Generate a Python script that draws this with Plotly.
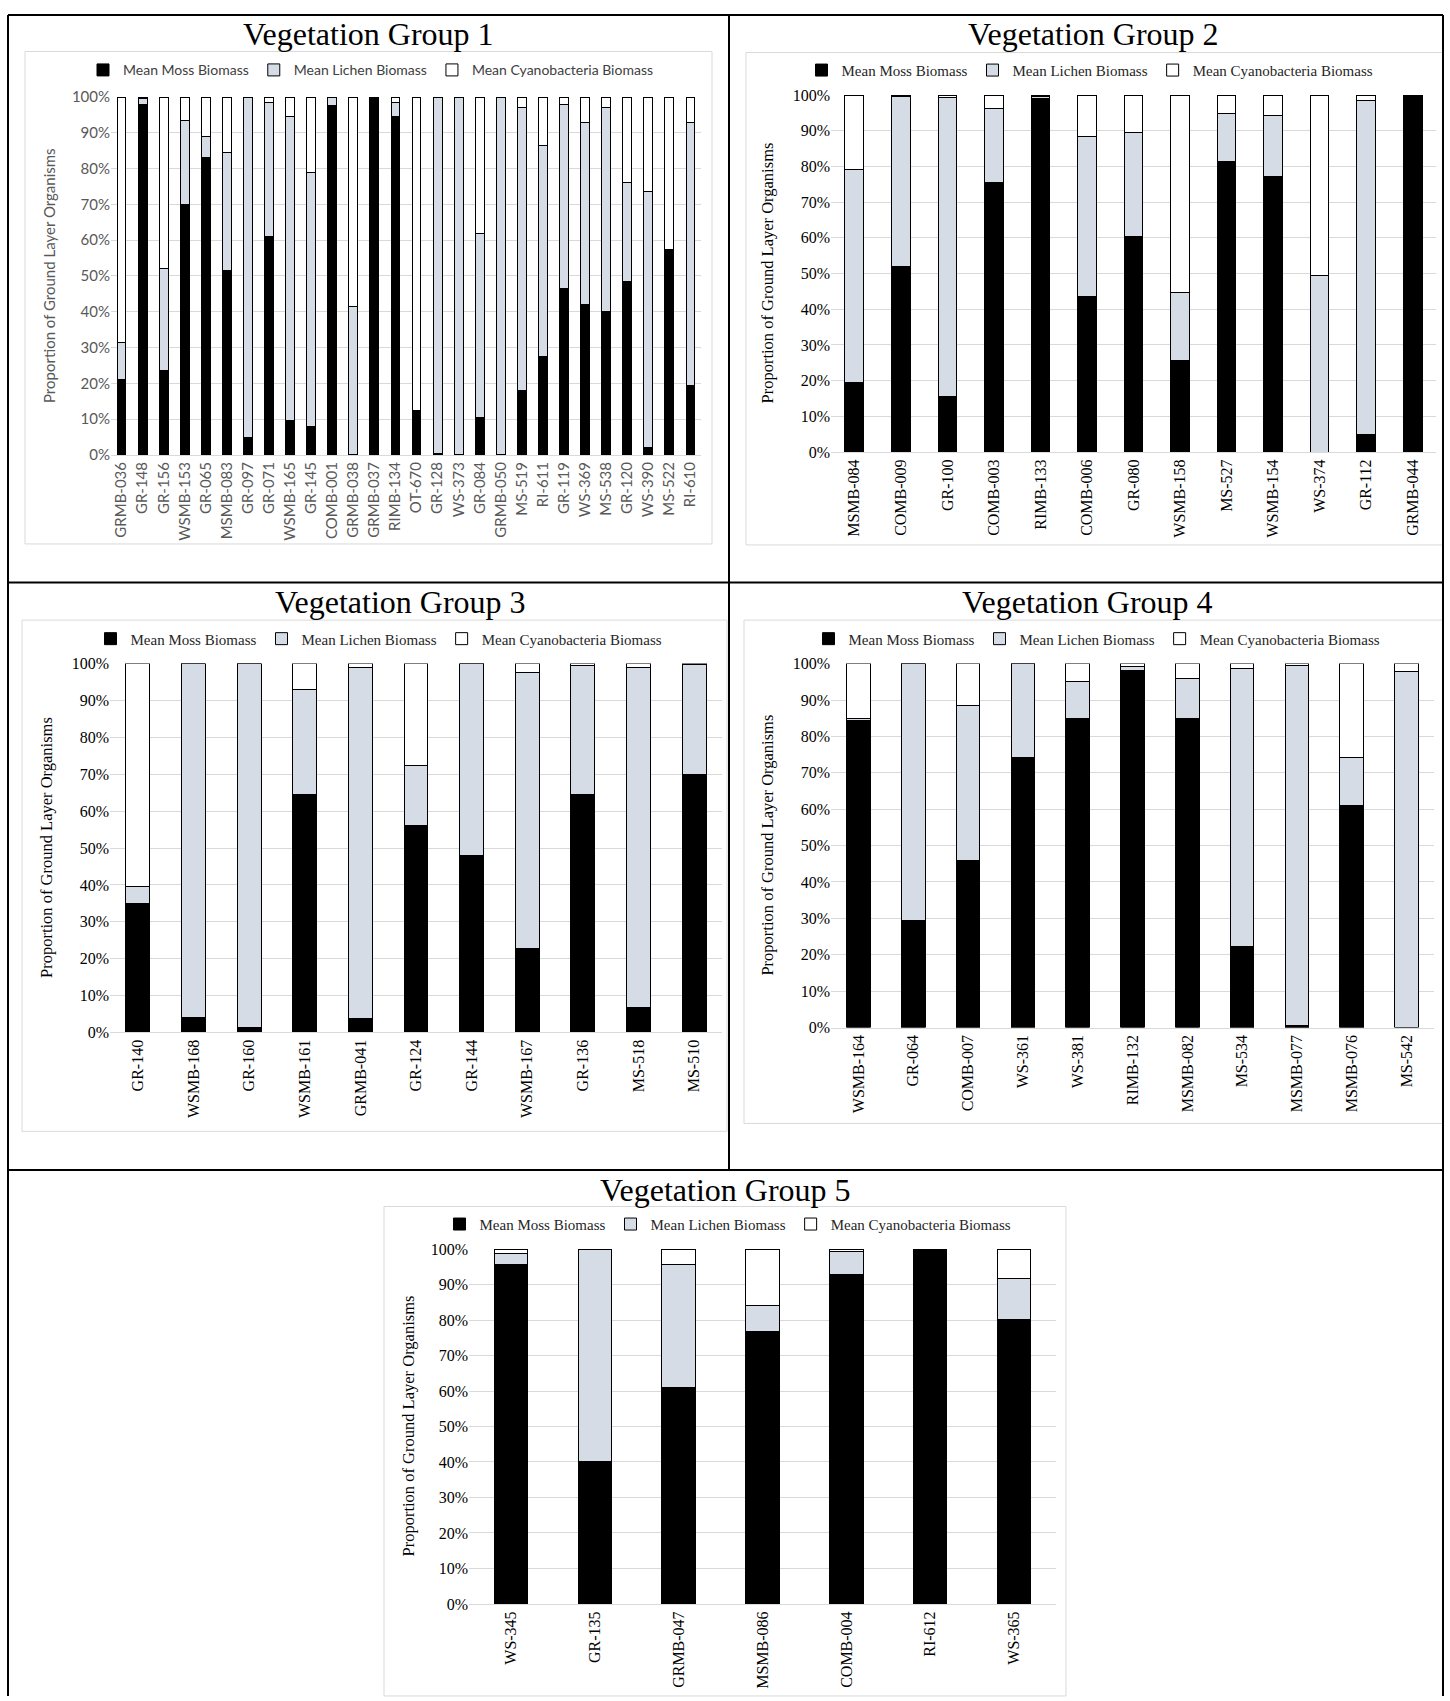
import plotly.graph_objects as go

# page size of the reference
W, H = 1450, 1701

# colours of the three layers
moss_color = "#000000"
lichen_color = "#d6dce5"
cyano_color = "#ffffff"

series_names = ["Mean Moss Biomass", "Mean Lichen Biomass", "Mean Cyanobacteria Biomass"]

# Vegetation Group 1
g1_sites = ["GRMB-036", "GR-148", "GR-156", "WSMB-153", "GR-065", "MSMB-083", "GR-097",
            "GR-071", "WSMB-165", "GR-145", "COMB-001", "GRMB-038", "GRMB-037", "RIMB-134",
            "OT-670", "GR-128", "WS-373", "GR-084", "GRMB-050", "MS-519", "RI-611", "GR-119",
            "WS-369", "MS-538", "GR-120", "WS-390", "MS-522", "RI-610"]
g1_moss = [21, 98, 23.5, 70, 83, 51.5, 5, 61, 9.5, 8, 97.5, 0, 100, 94.5,
           12.5, 0.3, 0, 10.5, 0, 18, 27.5, 46.5, 42, 40, 48.5, 2, 57.5, 19.5]
g1_lichen = [10.5, 1.5, 28.5, 23.5, 6, 33, 95, 37.5, 85, 71, 2.5, 41.5, 0, 4,
             0, 99.7, 100, 51.5, 100, 79, 59, 51.5, 51, 57, 27.5, 71.5, 0, 73.5]
g1_cyano = [68.5, 0.5, 48, 6.5, 11, 15.5, 0, 1.5, 5.5, 21, 0, 58.5, 0, 1.5,
            87.5, 0, 0, 38, 0, 3, 13.5, 2, 7, 3, 24, 26.5, 42.5, 7]

# Vegetation Group 2
g2_sites = ["MSMB-084", "COMB-009", "GR-100", "COMB-003", "RIMB-133", "COMB-006", "GR-080",
            "WSMB-158", "MS-527", "WSMB-154", "WS-374", "GR-112", "GRMB-044"]
g2_moss = [19.5, 52, 15.5, 75.5, 99, 43.5, 60.3, 25.5, 81.3, 77.3, 0, 5, 100]
g2_lichen = [59.5, 47.7, 83.8, 20.8, 0.7, 45, 29.2, 19.3, 13.4, 17, 49.5, 93.6, 0]
g2_cyano = [21, 0.3, 0.7, 3.7, 0.3, 11.5, 10.5, 55.2, 5.3, 5.7, 50.5, 1.4, 0]

# Vegetation Group 3
g3_sites = ["GR-140", "WSMB-168", "GR-160", "WSMB-161", "GRMB-041", "GR-124", "GR-144",
            "WSMB-167", "GR-136", "MS-518", "MS-510"]
g3_moss = [35, 4, 1.3, 64.5, 3.7, 56, 48, 22.8, 64.5, 6.8, 70]
g3_lichen = [4.5, 96, 98.7, 28.5, 95.3, 16.3, 52, 74.7, 35.1, 92.2, 29.7]
g3_cyano = [60.5, 0, 0, 7, 1, 27.7, 0, 2.5, 0.4, 1, 0.3]

# Vegetation Group 4
g4_sites = ["WSMB-164", "GR-064", "COMB-007", "WS-361", "WS-381", "RIMB-132", "MSMB-082",
            "MS-534", "MSMB-077", "MSMB-076", "MS-542"]
g4_moss = [84.5, 29.5, 46, 74.3, 85, 98, 85, 22.3, 0.6, 61, 0]
g4_lichen = [0.3, 70.5, 42.5, 25.7, 10.2, 1.3, 11, 76.4, 98.9, 13.2, 97.8]
g4_cyano = [15.2, 0, 11.5, 0, 4.8, 0.7, 4, 1.3, 0.5, 25.8, 2.2]

# Vegetation Group 5
g5_sites = ["WS-345", "GR-135", "GRMB-047", "MSMB-086", "COMB-004", "RI-612", "WS-365"]
g5_moss = [95.5, 40, 61, 76.7, 92.8, 100, 80.2]
g5_lichen = [3.3, 60, 34.7, 7.3, 6.4, 0, 11.5]
g5_cyano = [1.2, 0, 4.3, 16, 0.8, 0, 8.3]

y_ticks = [0, 10, 20, 30, 40, 50, 60, 70, 80, 90, 100]
y_tick_labels = ["0%", "10%", "20%", "30%", "40%", "50%", "60%", "70%", "80%", "90%", "100%"]

sans = "Lato"
serif = "Liberation Serif"

# layout of each panel in page pixels:
# plot area (x0, x1, ytop, ybottom), legend centre, title centre, y title x, light box
panels = [
    dict(title="Vegetation Group 1", sites=g1_sites, moss=g1_moss, lichen=g1_lichen, cyano=g1_cyano,
         area=(111, 701, 88, 450), legend=(371, 61), head=(368, 24), ytx=49,
         box=(25, 42, 712, 540), font=sans, tick_color="#595959", size=15, width=0.42),
    dict(title="Vegetation Group 2", sites=g2_sites, moss=g2_moss, lichen=g2_lichen, cyano=g2_cyano,
         area=(831, 1436, 86, 447), legend=(1090, 61), head=(1093, 24), ytx=768,
         box=(746, 43, 1443, 541), font=serif, tick_color="#000000", size=16, width=0.40),
    dict(title="Vegetation Group 3", sites=g3_sites, moss=g3_moss, lichen=g3_lichen, cyano=g3_cyano,
         area=(110, 722, 661, 1034), legend=(379, 636), head=(400, 599), ytx=46,
         box=(22, 617, 727, 1134), font=serif, tick_color="#000000", size=16, width=0.43),
    dict(title="Vegetation Group 4", sites=g4_sites, moss=g4_moss, lichen=g4_lichen, cyano=g4_cyano,
         area=(831, 1434, 661, 1029), legend=(1097, 636), head=(1087, 599), ytx=768,
         box=(744, 617, 1443, 1126), font=serif, tick_color="#000000", size=16, width=0.43),
    dict(title="Vegetation Group 5", sites=g5_sites, moss=g5_moss, lichen=g5_lichen, cyano=g5_cyano,
         area=(469, 1056, 1253, 1612), legend=(728, 1228), head=(725, 1193), ytx=408,
         box=(384, 1210, 1066, 1705), font=serif, tick_color="#000000", size=16, width=0.40),
]


def px_x(v):
    return v / W


def px_y(v):
    return 1 - v / H


fig = go.Figure()
layout = dict(
    width=W, height=H,
    margin=dict(l=0, r=0, t=0, b=0),
    paper_bgcolor="white", plot_bgcolor="white",
    barmode="stack",
    showlegend=True,
)
annotations = []
shapes = []

for i, p in enumerate(panels, start=1):
    sfx = "" if i == 1 else str(i)
    xa, ya = "x" + sfx, "y" + sfx
    leg = "legend" + sfx
    values = [p["moss"], p["lichen"], p["cyano"]]
    colors = [moss_color, lichen_color, cyano_color]
    for name, vals, col in zip(series_names, values, colors):
        fig.add_trace(go.Bar(
            x=p["sites"], y=vals, name=name, xaxis=xa, yaxis=ya, legend=leg,
            width=p["width"],
            marker=dict(color=col, line=dict(color="#000000", width=1)),
        ))

    x0, x1, yt, yb = p["area"]
    tick_font = dict(family=p["font"], size=p["size"], color=p["tick_color"])
    layout["xaxis" + sfx] = dict(
        domain=[px_x(x0), px_x(x1)], anchor=ya, type="category",
        tickangle=-90, tickfont=tick_font, showline=True, linecolor="#d9d9d9",
        linewidth=1, ticks="", showgrid=False, fixedrange=True,
    )
    layout["yaxis" + sfx] = dict(
        domain=[px_y(yb), px_y(yt)], anchor=xa, range=[0, 100],
        tickmode="array", tickvals=y_ticks, ticktext=y_tick_labels, tickfont=tick_font,
        showgrid=True, gridcolor="#d9d9d9", gridwidth=1, zeroline=False,
        showline=False, ticks="", fixedrange=True,
    )
    lx, ly = p["legend"]
    layout[leg] = dict(
        orientation="h", x=px_x(lx), xanchor="center", y=px_y(ly), yanchor="middle",
        font=dict(family=p["font"], size=p["size"] - 1,
                  color="#262626" if p["font"] == serif else "#404040"),
        bgcolor="rgba(0,0,0,0)", traceorder="normal", itemwidth=30, itemclick=False,
    )

    # panel heading
    hx, hy = p["head"]
    annotations.append(dict(
        text=p["title"], x=px_x(hx), y=px_y(hy), xref="paper", yref="paper",
        xanchor="center", yanchor="middle", showarrow=False,
        font=dict(family=serif, size=32, color="#000000"),
    ))
    # y axis title
    annotations.append(dict(
        text="Proportion of Ground Layer Organisms", x=px_x(p["ytx"]), y=px_y((yt + yb) / 2),
        xref="paper", yref="paper", xanchor="center", yanchor="middle", textangle=-90,
        showarrow=False,
        font=dict(family=p["font"], size=15 if p["font"] == sans else 16.5, color=p["tick_color"]),
    ))
    # light chart frame
    bx0, by0, bx1, by1 = p["box"]
    shapes.append(dict(
        type="rect", xref="paper", yref="paper", layer="below",
        x0=px_x(bx0), x1=px_x(bx1), y0=px_y(by1), y1=px_y(by0),
        line=dict(color="#d9d9d9", width=1), fillcolor="rgba(0,0,0,0)",
    ))

# black table lines around the panels
table_lines = [
    (8, 5, 1443, 5),
    (8, 5, 8, 1705),
    (1443, 5, 1443, 1705),
    (729, 5, 729, 1173),
    (8, 579, 1443, 579),
    (8, 1173, 1443, 1173),
]
for x0, y0, x1, y1 in table_lines:
    shapes.append(dict(
        type="line", xref="paper", yref="paper",
        x0=px_x(x0), y0=px_y(y0), x1=px_x(x1), y1=px_y(y1),
        line=dict(color="#000000", width=2),
    ))

layout["annotations"] = annotations
layout["shapes"] = shapes
fig.update_layout(**layout)

# drop the default body margin so the figure fills the page exactly
fig.write_html(
    "out.html",
    config={"displayModeBar": False},
    post_script="document.body.style.margin='0';document.body.style.overflow='hidden';",
)
